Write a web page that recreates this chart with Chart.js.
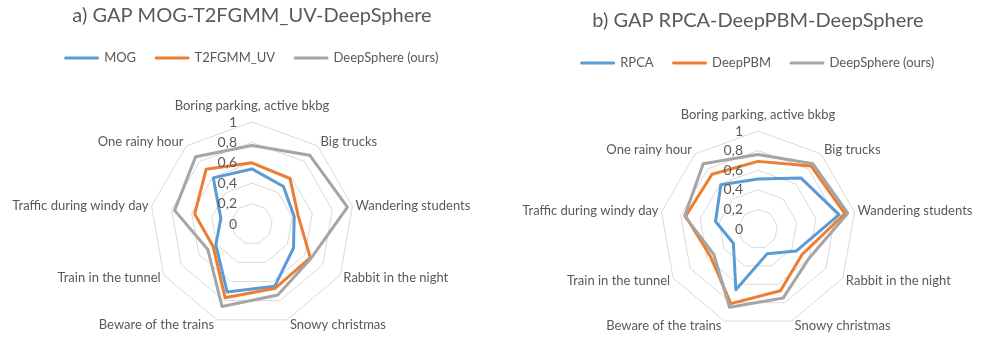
<!DOCTYPE html>
<html><head><meta charset="utf-8">
<script src="https://cdn.jsdelivr.net/npm/chart.js@4.4.1/dist/chart.umd.min.js"></script>
<style>
html,body{margin:0;padding:0;background:#fff;}
body{width:985px;height:337px;position:relative;overflow:hidden;}
canvas{position:absolute;}
#c1{left:0;top:0;}
#c2{left:504px;top:5px;}
</style></head><body>
<canvas id="c1" width="504" height="337"></canvas>
<canvas id="c2" width="481" height="332"></canvas>
<script>
const categories = ['Boring parking, active bkbg','Big trucks','Wandering students','Rabbit in the night','Snowy christmas','Beware of the trains','Train in the tunnel','Traffic during windy day','One rainy hour'];
const titleA = 'a) GAP MOG-T2FGMM_UV-DeepSphere';
const titleB = 'b) GAP RPCA-DeepPBM-DeepSphere';
const seriesNamesA = ['MOG','T2FGMM_UV','DeepSphere (ours)'];
const seriesNamesB = ['RPCA','DeepPBM','DeepSphere (ours)'];
const mog = [0.54,0.48,0.42,0.47,0.65,0.71,0.41,0.31,0.59];
const t2fgmmUV = [0.60,0.58,0.46,0.66,0.67,0.77,0.44,0.57,0.70];
const deepSphereA = [0.77,0.88,0.95,0.67,0.74,0.86,0.50,0.77,0.86];
const rpca = [0.51,0.68,0.84,0.45,0.27,0.66,0.29,0.44,0.59];
const deepPBM = [0.69,0.84,0.90,0.52,0.67,0.81,0.56,0.75,0.73];
const deepSphereB = [0.76,0.87,0.93,0.60,0.75,0.85,0.52,0.76,0.87];
const tickValues = [0,0.2,0.4,0.6,0.8,1];
const tickLabels = ['0','0,2','0,4','0,6','0,8','1'];

const COLORS = ['#5B9BD5','#ED7D31','#A5A5A5'];
const TEXT = '#595959';
const FONT = 'Lato';

const labelPlugin = {
  id: 'excelLabels',
  afterDatasetsDraw(chart) {
    const s = chart.scales.r, ctx = chart.ctx;
    ctx.save();
    ctx.fillStyle = TEXT;
    ctx.textBaseline = 'middle';
    ctx.textAlign = 'right';
    ctx.font = '14px ' + FONT;
    tickValues.forEach((v, i) => {
      const d = s.getDistanceFromCenterForValue(v);
      ctx.fillText(tickLabels[i], s.xCenter - 15, s.yCenter - d);
    });
    ctx.font = '13px ' + FONT;
    chart.data.labels.forEach((lab, i) => {
      const p = s.getPointPosition(i, s.drawingArea);
      const a = s.getIndexAngle(i);
      const sn = Math.sin(a), cs = Math.cos(a);
      if (Math.abs(sn) < 0.1) {
        ctx.textAlign = 'center';
        ctx.fillText(lab, p.x, p.y - 16);
      } else {
        ctx.textAlign = sn > 0 ? 'left' : 'right';
        ctx.fillText(lab, p.x + (sn > 0 ? 3 : -3), p.y - 5 * cs);
      }
    });
    ctx.restore();
  }
};

function makeChart(id, title, names, series, spacer) {
  const datasets = series.map((d, k) => ({
    label: names[k], data: d,
    borderColor: COLORS[k], backgroundColor: COLORS[k],
    borderWidth: 3, fill: false, pointRadius: 0, pointHoverRadius: 0,
    borderJoinStyle: 'round', borderCapStyle: 'round',
    order: 2 - k
  }));
  return new Chart(document.getElementById(id), {
    type: 'radar',
    data: { labels: categories, datasets },
    options: {
      responsive: false, animation: false, devicePixelRatio: 1,
      layout: { padding: { left: id === 'c2' ? 27 : 0, right: 0, top: 0, bottom: id === 'c2' ? 10 : 11 } },
      plugins: {
        title: { display: true, text: title, color: TEXT, font: { family: FONT, size: 20, weight: 'normal' }, padding: { top: 4, bottom: 3.5 } },
        legend: { display: true, position: 'top', labels: { color: TEXT, font: { family: FONT, size: 13 }, boxWidth: 32, boxHeight: 0, padding: 20, sort: (a, b) => a.datasetIndex - b.datasetIndex } },
        subtitle: { display: true, text: '', position: 'top', weight: 500, font: { size: 1 }, padding: { top: spacer - 1.2, bottom: 0 } },
        tooltip: { enabled: false }
      },
      scales: {
        r: {
          min: 0, max: 1,
          ticks: { stepSize: 0.2, display: false },
          grid: { color: '#D9D9D9', lineWidth: 1 },
          angleLines: { display: false },
          pointLabels: { display: false }
        }
      }
    },
    plugins: [labelPlugin]
  });
}

makeChart('c1', titleA, seriesNamesA, [mog, t2fgmmUV, deepSphereA], 47.5);
makeChart('c2', titleB, seriesNamesB, [rpca, deepPBM, deepSphereB], 51.5);
</script>
</body></html>
